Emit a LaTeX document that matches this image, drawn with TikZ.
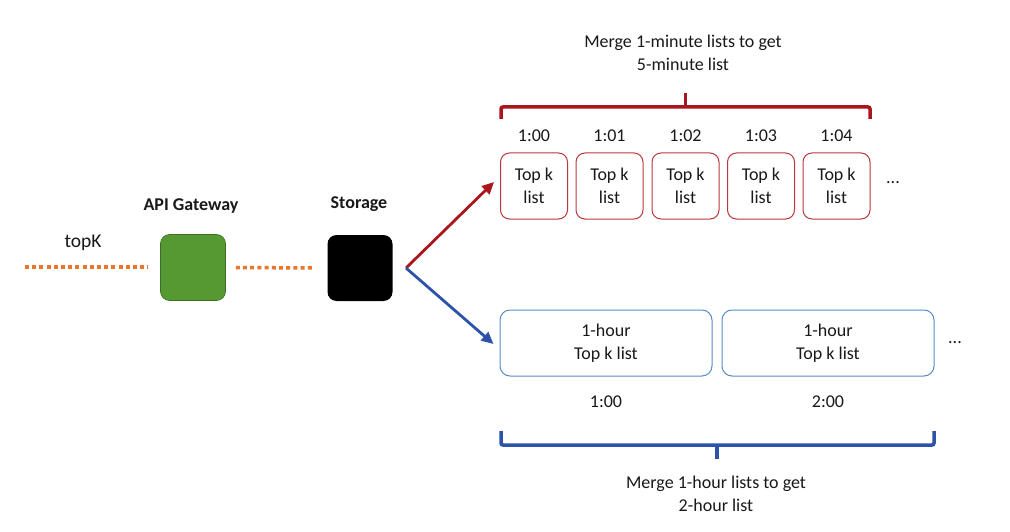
\documentclass[tikz,border=0pt]{standalone}
\usepackage{fontspec}
\setmainfont{Carlito}
\usetikzlibrary{arrows.meta}
\definecolor{dotorange}{RGB}{232,118,46}
\definecolor{gwgreen}{RGB}{86,152,50}
\definecolor{gwgreenD}{RGB}{60,110,35}
\definecolor{darkred}{RGB}{170,22,30}
\definecolor{boxred}{RGB}{185,55,60}
\definecolor{darkblue}{RGB}{45,82,170}
\definecolor{boxblue}{RGB}{85,140,200}
\definecolor{txt}{RGB}{25,25,25}
\tikzset{
  txtnode/.style={font=\fontsize{18}{22.5}\selectfont, text=txt, inner sep=0pt, align=center},
  boldnode/.style={txtnode, font=\fontsize{18}{22.5}\selectfont\bfseries},
  dotline/.style={dotorange, line width=3.5pt, dash pattern=on 4pt off 3.2pt},
  sqbox/.style={minimum width=65pt, minimum height=66pt, rounded corners=9pt, inner sep=0pt},
  minbox/.style={draw=boxred, line width=1pt, rounded corners=9pt, minimum width=67pt, minimum height=66pt, inner sep=0pt, txtnode, align=center},
  hourbox/.style={draw=boxblue, line width=1pt, rounded corners=10pt, minimum width=212pt, minimum height=66pt, inner sep=0pt, txtnode, align=center},
  redarrow/.style={darkred, line width=2.8pt, -{Triangle[length=12pt,width=11pt]}},
  bluearrow/.style={darkblue, line width=2.8pt, -{Triangle[length=12pt,width=11pt]}},
  bracered/.style={darkred, line width=3.5pt, rounded corners=2pt},
  braceblue/.style={darkblue, line width=3.5pt, rounded corners=2pt},
}
\begin{document}
\begin{tikzpicture}[x=1pt,y=-1pt]
\useasboundingbox[fill=white] (0,0) rectangle (1010,532);

% left part
\node[txtnode, font=\fontsize{19.5}{23}\selectfont] (topk) at (83,243) {topK};
\coordinate (s0) at (25,267);
\node[sqbox, fill=gwgreen, draw=gwgreenD, line width=0.6pt] (gw) at (193,267.5) {};
\node[sqbox, fill=black] (st) at (360,268) {};
\node[boldnode] (gwl) at (191,206) {API Gateway};
\node[boldnode] (stl) at (359,204) {Storage};
\coordinate (e0) at (148,267);
\draw[dotline] (s0) -- (e0);
\draw[dotline] ([xshift=10pt]gw.east) -- ([xshift=-15pt]st.west);

% minute boxes
\foreach \i/\x/\t in {1/534/1:00,2/609.5/1:01,3/685.5/1:02,4/761/1:03,5/836.5/1:04}{
  \node[minbox] (m\i) at (\x,186) {Top k\\list};
  \node[txtnode] (t\i) at (\x,136) {\t};
}
\node[txtnode] (mdots) at (893,183) {...};

% red brace
\coordinate (rb1) at (501,119);
\coordinate (rb2) at (870,119);
\coordinate (rbm) at (685.5,107);
\draw[bracered] (rb1) -- (501,107) -- (870,107) -- (rb2);
\draw[darkred, line width=3.5pt] (rbm) -- (685.5,93);
\node[txtnode] (mtop) at (683,53) {Merge 1-minute lists to get\\5-minute list};

% hour boxes
\node[hourbox] (h1) at (606,343) {1-hour\\Top k list};
\node[hourbox] (h2) at (828,343) {1-hour\\Top k list};
\node[txtnode] (ht1) at (606,402) {1:00};
\node[txtnode] (ht2) at (828,402) {2:00};
\node[txtnode] (hdots) at (955,343) {...};

% blue brace
\coordinate (bb1) at (501,431);
\coordinate (bb2) at (934,431);
\coordinate (bbm) at (717,445);
\draw[braceblue] (bb1) -- (501,445) -- (934,445) -- (bb2);
\draw[darkblue, line width=3.5pt] (bbm) -- (717,459);
\node[txtnode] (mbot) at (716,494) {Merge 1-hour lists to get\\2-hour list};

% arrows
\coordinate (fork) at (406,268);
\draw[redarrow] (fork) -- ([xshift=-6pt,yshift=4pt]m1.west);
\draw[bluearrow] (fork) -- ([xshift=-6pt,yshift=-1pt]h1.west);
\end{tikzpicture}
\end{document}
